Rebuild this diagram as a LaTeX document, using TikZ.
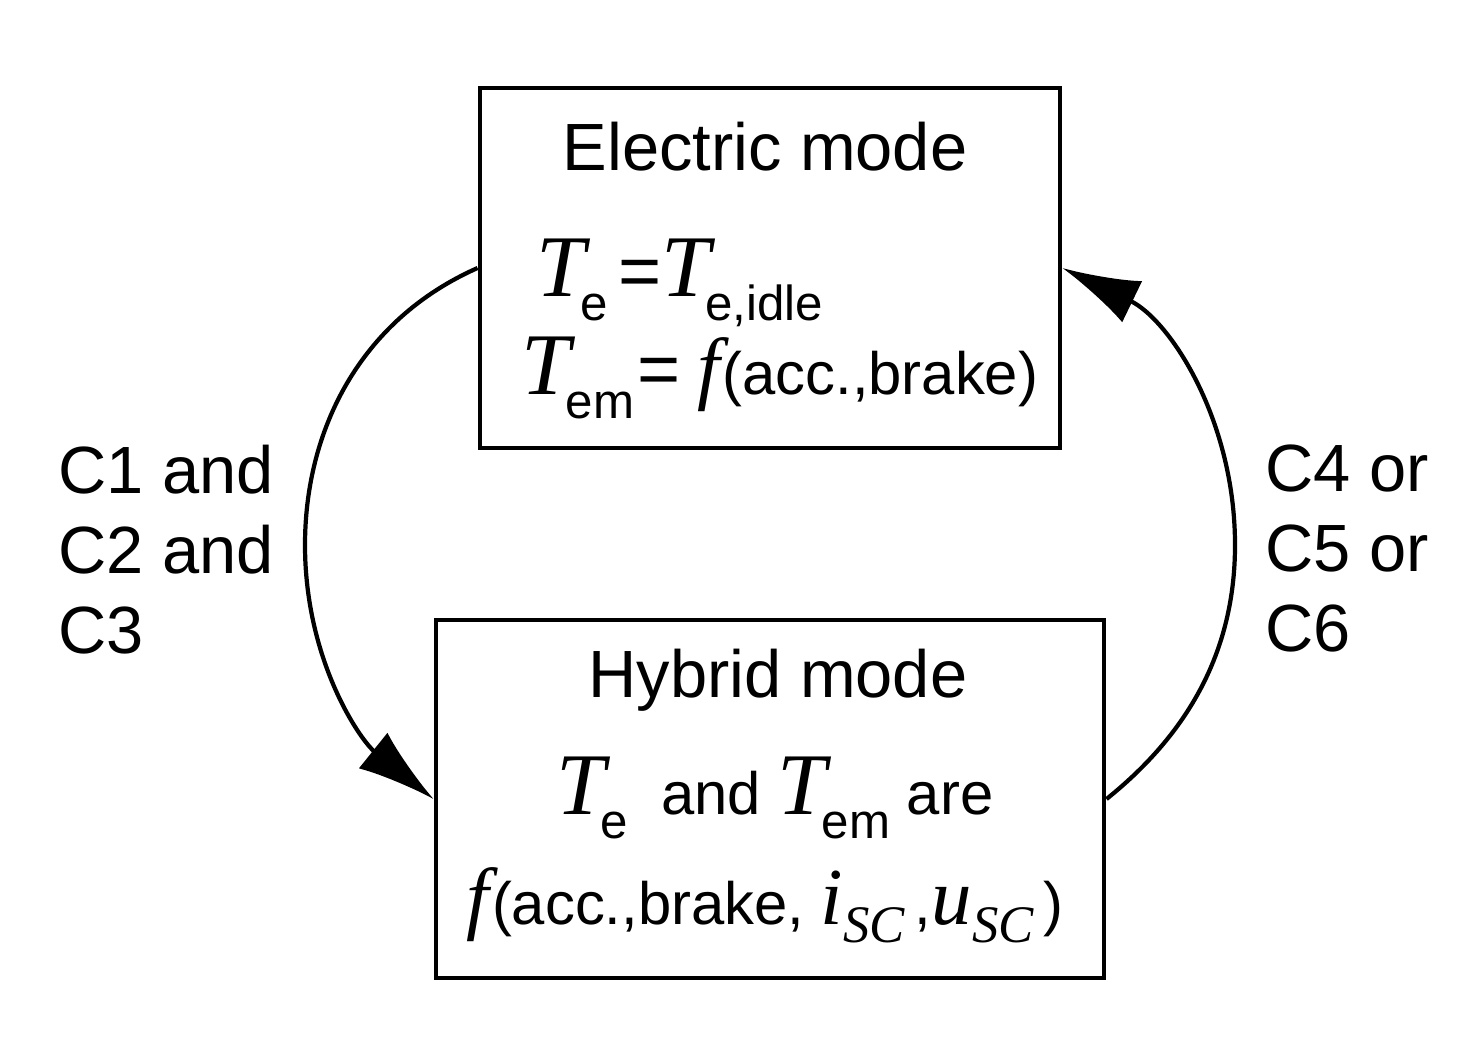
\documentclass[tikz,border=0pt]{standalone}
\usepackage{fontspec}
\setmainfont{Liberation Sans}
\newfontfamily\tms{Liberation Serif}
\usetikzlibrary{arrows.meta}
\newcommand{\TT}[1]{{\fontsize{25}{25}\selectfont\tms\itshape T}\kern-0.08em\raisebox{-0.4em}{\fontsize{14}{14}\selectfont #1}}
\newcommand{\ff}{{\fontsize{23}{23}\selectfont\tms\itshape f}\kern0.05em}
\newcommand{\SC}[1]{{\fontsize{23}{23}\selectfont\tms\itshape #1}\raisebox{-0.3em}{\fontsize{15}{15}\selectfont\tms\itshape SC}}
\newcommand{\eqs}{{\fontsize{21}{21}\selectfont =}}
\begin{document}
\begin{tikzpicture}[x=0.01cm,y=-0.01cm,
  box/.style={draw,line width=1.3pt,inner sep=0pt},
  txt/.style={font=\fontsize{19}{22}\selectfont,inner sep=0pt},
  ftxt/.style={font=\fontsize{17}{20}\selectfont,inner sep=0pt},
  lab/.style={font=\fontsize{19}{22.8}\selectfont,inner sep=0pt,align=left,anchor=north west},
  conn/.style={line width=1.2pt,-{Latex[length=22pt,width=13pt]}}]
\useasboundingbox (0,0) rectangle (1464,1056);
\node[box,minimum width=5.8cm,minimum height=3.6cm] (top) at (770,268) {};
\node[box,minimum width=6.68cm,minimum height=3.58cm] (bot) at (770,799) {};
\node[txt] (t1) at (765,147) {Electric mode};
\node[ftxt] (t2) at (680,283) {\TT{e}\,\eqs\TT{e,idle}};
\node[ftxt] (t3) at (780,378) {\TT{em}\kern0.05em\eqs\ \ff(acc.,brake)};
\node[txt] (b1) at (778,680) {Hybrid mode};
\node[ftxt] (b2) at (775,798) {\TT{e}\ \ and \TT{em} are};
\node[ftxt] (b3) at (765,905) {\ff(acc.,brake, \SC{i}\,,\SC{u}\,)};
\node[lab] (l) at (58,444) {C1 and\\C2 and\\C3};
\node[lab] (r) at (1265,444) {C4 or\\C5 or\\C6};
\coordinate (ml) at (305,545);
\coordinate (mr) at (1235,545);
\draw[conn] (top.west) .. controls (360,320) and (305,430) .. (ml) .. controls (305,660) and (360,740) .. (bot.west);
\draw[conn] (bot.east) .. controls (1180,740) and (1235,660) .. (mr) .. controls (1235,420) and (1170,320) .. (top.east);
\end{tikzpicture}
\end{document}
